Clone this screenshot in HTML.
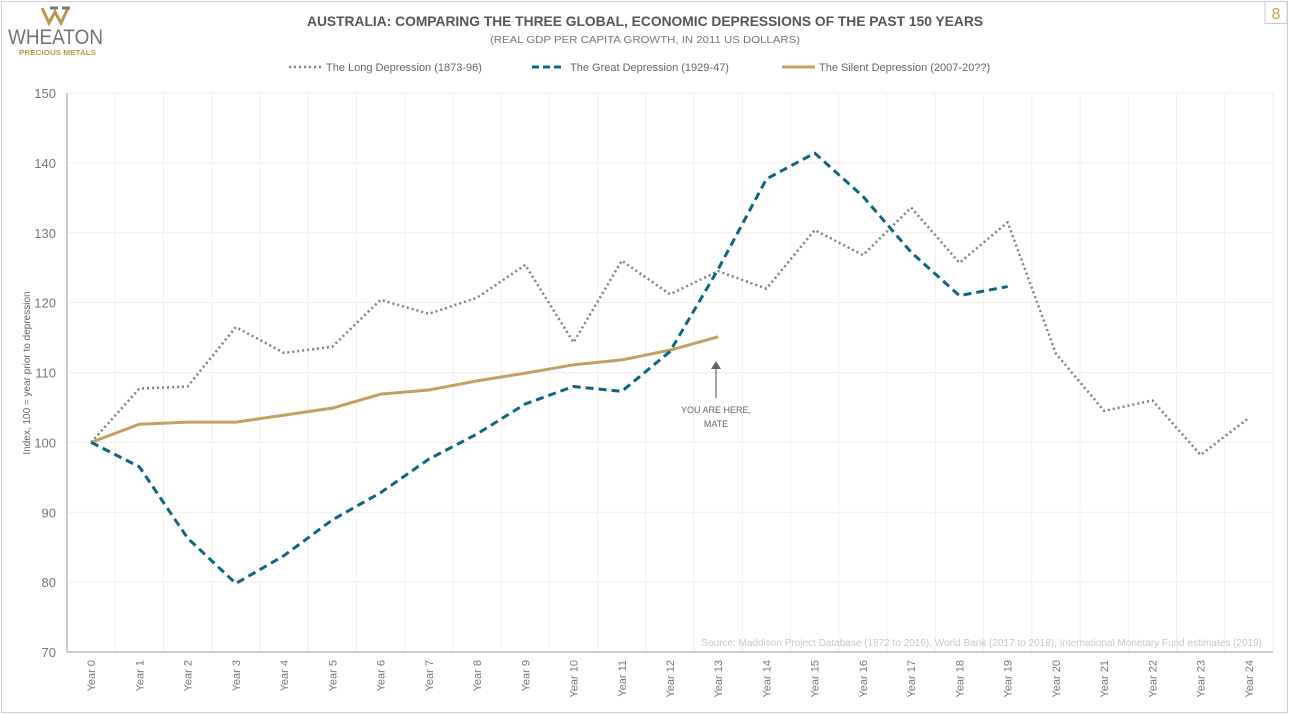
<!DOCTYPE html>
<html><head><meta charset="utf-8"><style>
body{margin:0;background:#fff;font-family:"Liberation Sans",sans-serif;}
#wrap{position:relative;width:1290px;height:714px;overflow:hidden;}
</style></head><body>
<div id="wrap">
<svg id="chart" width="1290" height="714">
<rect x="1.5" y="1.5" width="1286" height="711" fill="none" stroke="#d0d0d0"/>
<rect x="1265" y="1.5" width="22" height="22" fill="#fff" stroke="#ccc"/>
<text x="1276" y="19" text-anchor="middle" font-size="16" fill="#c9a04e">8</text>
<g>
<path d="M42 8 L49 23 L55 12 L61 23 L68 8" fill="none" stroke="#b8964a" stroke-width="3"/>
<path d="M50 8 L58 8 M62 8 L70 8" stroke="#777" stroke-width="3"/>
<text x="8" y="44" font-size="21" fill="#737373" textLength="95" lengthAdjust="spacingAndGlyphs">WHEATON</text>
<text x="19" y="55" font-size="7.5" font-weight="bold" fill="#b8964a" textLength="77" lengthAdjust="spacingAndGlyphs">PRECIOUS METALS</text>
</g>
<text x="645" y="26" text-anchor="middle" font-size="14" font-weight="bold" fill="#555" textLength="676" lengthAdjust="spacingAndGlyphs">AUSTRALIA: COMPARING THE THREE GLOBAL, ECONOMIC DEPRESSIONS OF THE PAST 150 YEARS</text>
<text x="645" y="43" text-anchor="middle" font-size="10.5" fill="#777" textLength="310" lengthAdjust="spacingAndGlyphs">(REAL GDP PER CAPITA GROWTH, IN 2011 US DOLLARS)</text>
<g>
<g><line x1="289" y1="67" x2="321" y2="67" stroke="#808080" stroke-width="2.5" stroke-dasharray="2,3"/><text x="326" y="71" font-size="11" fill="#666">The Long Depression (1873-96)</text></g>
<g><line x1="532" y1="67" x2="565" y2="67" stroke="#0e6580" stroke-width="3" stroke-dasharray="7,4"/><text x="570" y="71" font-size="11" fill="#666">The Great Depression (1929-47)</text></g>
<g><line x1="782" y1="67" x2="815" y2="67" stroke="#c2a061" stroke-width="3"/><text x="819" y="71" font-size="11" fill="#666">The Silent Depression (2007-20??)</text></g>
</g>
<g id="grid"></g><g id="axes"></g><g id="series"></g>
<text transform="translate(30,373) rotate(-90)" text-anchor="middle" font-size="10" fill="#666">Index, 100 = year prior to depression</text>
<text x="1262" y="646" text-anchor="end" font-size="10" fill="#c8c8c8">Source: Maddison Project Database (1872 to 2016), World Bank (2017 to 2018), International Monetary Fund estimates (2019)</text>
<g>
<line x1="716" y1="398" x2="716" y2="366" stroke="#666" stroke-width="1.2"/>
<path d="M711 369 L716 361 L721 369 Z" fill="#666"/>
<text x="716" y="413" text-anchor="middle" font-size="9" fill="#666">YOU ARE HERE,</text>
<text x="716" y="427" text-anchor="middle" font-size="9" fill="#666">MATE</text>
</g>
</svg>
</div>
<script>
const categories=["Year 0","Year 1","Year 2","Year 3","Year 4","Year 5","Year 6","Year 7","Year 8","Year 9","Year 10","Year 11","Year 12","Year 13","Year 14","Year 15","Year 16","Year 17","Year 18","Year 19","Year 20","Year 21","Year 22","Year 23","Year 24"];
const longDepression=[100,107.7,108,116.5,112.8,113.7,120.4,118.4,120.7,125.4,114.3,126,121.2,124.5,122,130.4,126.8,133.6,125.7,131.5,112.7,104.5,106,98.2,103.5];
const greatDepression=[100,96.5,86.3,79.8,83.8,88.9,92.8,97.6,101.2,105.5,108,107.3,113,124.8,137.7,141.4,135.2,127.2,121,122.3];
const silentDepression=[100,102.6,102.9,102.9,103.9,104.9,106.9,107.5,108.8,109.9,111.1,111.8,113.2,115.1];
const yTicks=[70,80,90,100,110,120,130,140,150];
const L=67,R=1273,T=93,B=652,ymin=70,ymax=150;
const bw=(R-L)/categories.length;
const xs=i=>L+bw*(i+0.5);
const ys=v=>B-(v-ymin)/(ymax-ymin)*(B-T);
const NS="http://www.w3.org/2000/svg";
function mk(p,t,a){const e=document.createElementNS(NS,t);for(const k in a)e.setAttribute(k,a[k]);p.appendChild(e);return e;}
const grid=document.getElementById('grid'),axes=document.getElementById('axes'),ser=document.getElementById('series');
for(let i=0;i<=categories.length;i++){const g=mk(grid,'line',{x1:L+bw*i,x2:L+bw*i,y1:T,y2:B,stroke:'#f5efe4','stroke-width':1});

}
yTicks.forEach(v=>{const g=mk(grid,'line',{x1:L,x2:R,y1:ys(v),y2:ys(v),stroke:'#f5efe4','stroke-width':1});


const t=mk(axes,'text',{x:56,y:ys(v)+5,'text-anchor':'end','font-size':13,fill:'#777'});t.textContent=v;

});
const ax=mk(axes,'line',{x1:L,x2:L,y1:T,y2:B,stroke:'#999'});


const bx=mk(axes,'line',{x1:L,x2:R,y1:B,y2:B,stroke:'#999'});


categories.forEach((c,i)=>{const x=xs(i)+4;const t=mk(axes,'text',{transform:`translate(${x},${B+8}) rotate(-90)`,'text-anchor':'end','font-size':11,fill:'#777'});t.textContent=c;

});
function line(d,st,name){const p=mk(ser,'polyline',Object.assign({points:d.map((v,i)=>xs(i)+','+ys(v)).join(' '),fill:'none','stroke-linejoin':'round'},st));

}
line(longDepression,{stroke:'#808080','stroke-width':2.5,'stroke-dasharray':'2,3'},'long-depression-line');
line(silentDepression,{stroke:'#c2a061','stroke-width':3},'silent-depression-line');
line(greatDepression,{stroke:'#0e6580','stroke-width':3,'stroke-dasharray':'8,5'},'great-depression-line');
</script>
</body></html>
